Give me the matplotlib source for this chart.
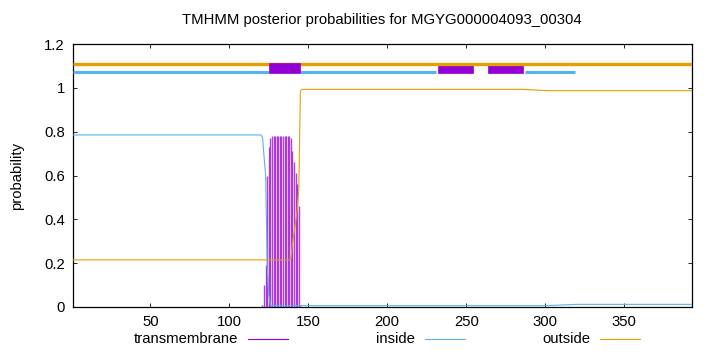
import matplotlib
matplotlib.use("Agg")
import matplotlib.pyplot as plt
from matplotlib.lines import Line2D
from matplotlib.patches import Rectangle

plt.rcParams['font.family'] = ['Liberation Sans', 'DejaVu Sans']

title = "TMHMM posterior probabilities for MGYG000004093_00304"
seq_len = 393

# inside / outside posterior curves (residue, probability)
inside_pos = [1, 120, 121, 122, 123, 124, 125, 126, 127, 300, 320, 393]
inside_val = [0.785, 0.785, 0.775, 0.685, 0.6, 0.185, 0.055, 0.01, 0.006, 0.006, 0.012, 0.012]
outside_pos = [1, 138, 139, 140, 141, 142, 143, 144, 145, 146, 286, 302, 393]
outside_val = [0.215, 0.215, 0.22, 0.29, 0.34, 0.39, 0.44, 0.54, 0.985, 0.993, 0.993, 0.987, 0.987]

# transmembrane posterior (impulses)
tm_pos = list(range(121, 146))
tm_val = [0.01, 0.1, 0.19, 0.6, 0.73, 0.77,
          0.78, 0.78, 0.78, 0.78, 0.78, 0.78, 0.78, 0.78, 0.78, 0.78, 0.78, 0.78,
          0.77, 0.71, 0.66, 0.61, 0.56, 0.46, 0.01]

# predicted topology segments
inside_segs = [(1, 125), (145, 231), (287, 319)]
tm_segs = [(125, 145), (232, 254), (264, 286)]
outside_segs = [(1, 393)]

c_tm = "#9400D3"
c_in = "#56B4E9"
c_out = "#E69F00"
fs = 10.7

fig = plt.figure(figsize=(7.2, 3.52), dpi=100)
ax = fig.add_axes([73/720, 45/352, 619/720, 263/352])

ax.vlines(tm_pos, 0, tm_val, color=c_tm, lw=1.0, alpha=0.75, zorder=3)
ax.plot(inside_pos, inside_val, color=c_in, lw=0.8, zorder=4)
ax.plot(outside_pos, outside_val, color=c_out, lw=0.8, zorder=4)

# topology bars on top
for a, b in outside_segs:
    ax.plot([a, b], [1.111, 1.111], color=c_out, lw=2.4, solid_capstyle='butt', zorder=5)
for a, b in inside_segs:
    ax.plot([a, b], [1.07, 1.07], color=c_in, lw=2.2, solid_capstyle='butt', zorder=5)
for i, (a, b) in enumerate(tm_segs):
    top = 1.114 if i == 0 else 1.104
    ax.add_patch(Rectangle((a, 1.066), b - a, top - 1.066, facecolor=c_tm,
                           edgecolor=c_tm, lw=0.5, zorder=6 if i == 0 else 4))

ax.set_xlim(1, seq_len)
ax.set_ylim(0, 1.2)
ax.set_xticks([50, 100, 150, 200, 250, 300, 350])
ax.set_yticks([0, 0.2, 0.4, 0.6, 0.8, 1.0, 1.2])
ax.set_yticklabels(["0", "0.2", "0.4", "0.6", "0.8", "1", "1.2"])
ax.tick_params(direction='in', top=True, right=True, length=3, width=0.6,
               labelsize=fs, pad=6)
for s in ax.spines.values():
    s.set_linewidth(0.9)
ax.set_ylabel("probability", fontsize=fs, labelpad=14)
fig.text(382/720, 1 - 20/352, title, ha='center', va='center', fontsize=fs)

# legend row below the axis
legend = [("transmembrane", c_tm, 238), ("inside", c_in, 415), ("outside", c_out, 590)]
for name, col, xe in legend:
    fig.text(xe/720, 1 - 339/352, name, ha='right', va='center', fontsize=fs)
    fig.add_artist(Line2D([(xe + 10)/720, (xe + 50)/720], [1 - 339/352, 1 - 339/352],
                          color=col, lw=0.8, transform=fig.transFigure))

fig.savefig("out.png", dpi=100)
